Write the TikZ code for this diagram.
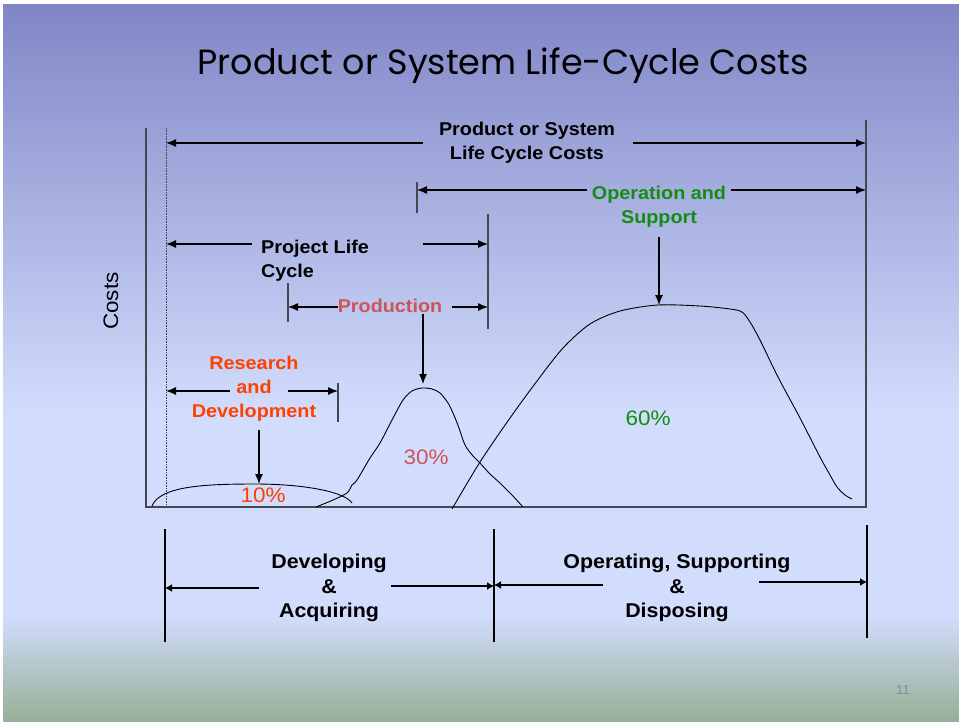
\documentclass[tikz,border=0pt]{standalone}
\usepackage{fontspec}
\setmainfont[FakeStretch=1.07]{Liberation Sans}
\newfontfamily\titlefont{Poppins}
\usetikzlibrary{arrows.meta, positioning}
\definecolor{bgtop}{RGB}{128,134,198}
\definecolor{bglight}{RGB}{210,221,253}
\definecolor{bgbottom}{RGB}{150,175,150}
\definecolor{rdred}{RGB}{255,64,0}
\definecolor{prodred}{RGB}{205,85,85}
\definecolor{opgreen}{RGB}{20,140,20}
\definecolor{tickgray}{RGB}{70,70,80}
\definecolor{pagegray}{RGB}{140,140,140}

\begin{document}
\begin{tikzpicture}[x=1pt, y=-1pt]
\tikzstyle{label}=[font=\bfseries\fontsize{18.5}{24}\selectfont, align=center, inner sep=0pt]
\tikzstyle{phaselabel}=[font=\bfseries\fontsize{20}{24.5}\selectfont, align=center, inner sep=0pt]
\tikzstyle{pct}=[font=\fontsize{21}{24}\selectfont, inner sep=0pt]
\tikzstyle{arrow}=[line width=1.2pt, ->, >={Latex[length=10pt,width=8pt]}]
\tikzstyle{tick}=[line width=1.4pt, tickgray]
\tikzstyle{curve}=[line width=0.9pt]
\tikzstyle{phase}=[line width=2.8pt]
\tikzstyle{phasearrow}=[line width=2.4pt, ->, >={Latex[length=7pt,width=8pt]}]

% background
\useasboundingbox (0,0) rectangle (959,721);
\fill[white] (0,0) rectangle (959,721);
\shade[top color=bgtop, bottom color=bglight] (3,4) rectangle (959,415);
\fill[bglight] (3,415) rectangle (959,615);
\shade[top color=bglight, bottom color=bgbottom] (3,615) rectangle (959,721);

\node (title) at (503,66) {\titlefont\fontsize{35}{40}\selectfont Product or System Life-Cycle Costs};

% axes
\coordinate (ytop) at (146,128);
\coordinate (origin) at (146,507);
\coordinate (xend) at (866,507);
\coordinate (rtop) at (866,120);
\coordinate (dtop) at (166,128);
\coordinate (dbot) at (166,507);
\draw[line width=1.1pt, tickgray] (ytop) -- (origin) -- (xend) -- (rtop);
\draw[line width=0.6pt, densely dotted, tickgray] (dtop) -- (dbot);
\node[pct, rotate=90] (costs) at (111,301) {Costs};

% whole life cycle
\node[label] (lcc) at (527,143) {Product or System\\Life Cycle Costs};
\coordinate (lccL) at (423,143);
\coordinate (lccR) at (633,143);
\draw[arrow] (lccL) -- (lccL -| dtop);
\draw[arrow] (lccR) -- (lccR -| rtop);

% operation and support
\node[label, text=opgreen] (ops) at (659,207) {Operation and\\Support};
\coordinate (opsTick) at (417,182);
\coordinate (opsTickB) at (417,213);
\coordinate (opsL) at (587,190);
\coordinate (opsR) at (731,190);
\coordinate (opsPeak) at (659,305);
\draw[tick] (opsTick) -- (opsTickB);
\draw[arrow] (opsL) -- (opsL -| opsTick);
\draw[arrow] (opsR) -- (opsR -| rtop);
\draw[arrow] (ops.south |- 0,237) -- (opsPeak);

% project life cycle
\node[label, align=left] (plc) at (315,261) {Project Life\\Cycle};
\coordinate (plcTick) at (488,214);
\coordinate (plcTickB) at (488,329);
\coordinate (plcL) at (252,244);
\coordinate (plcR) at (423,244);
\draw[tick] (plcTick) -- (plcTickB);
\draw[arrow] (plcL) -- (plcL -| dtop);
\draw[arrow] (plcR) -- (plcR -| plcTick);

% production
\node[label, text=prodred] (prod) at (390,306) {Production};
\coordinate (prodTick) at (288,283);
\coordinate (prodTickB) at (288,322);
\coordinate (prodL) at (338,307);
\coordinate (prodR) at (452,307);
\coordinate (prodPeak) at (423,384);
\draw[tick] (prodTick) -- (prodTickB);
\draw[arrow] (prodL) -- (prodL -| prodTick);
\draw[arrow] (prodR) -- (prodR -| plcTick);
\draw[arrow] (prodPeak |- 0,314) -- (prodPeak);

% research and development
\node[label, text=rdred] (rnd) at (254,389) {Research\\and\\Development};
\coordinate (rndTick) at (338,383);
\coordinate (rndTickB) at (338,422);
\coordinate (rndL) at (230,391);
\coordinate (rndR) at (288,391);
\coordinate (rndPeak) at (259,484);
\draw[tick] (rndTick) -- (rndTickB);
\draw[arrow] (rndL) -- (rndL -| dtop);
\draw[arrow] (rndR) -- (rndR -| rndTick);
\draw[arrow] (rndPeak |- 0,430) -- (rndPeak);

% cost curves
\draw[curve] (152,506) .. controls (160,486) and (205,484) .. (255,484)
  .. controls (305,484) and (345,492) .. (352,503);
\draw[curve] plot[smooth, tension=0.5] coordinates {(316,507) (333,500) (347,493)
  (352,485) (357,480) (370,458) (380,443) (392,420) (403,400) (412,391)
  (422,388) (432,389) (440,393) (448,403) (453,413) (459,428) (465,445)
  (473,456) (480,463) (490,474) (500,483) (512,495) (523,507)};
\draw[curve] plot[smooth] coordinates {(452,509) (480,462) (510,418) (537,381)
  (563,348) (590,324) (620,311) (658,305) (700,306) (730,309) (742,312)
  (750,322) (760,340) (778,377) (800,418) (820,457) (830,475) (837,487)
  (845,495) (852,499)};
\node[pct, text=rdred] (pctrnd) at (263,495) {10\%};
\node[pct, text=prodred] (pctprod) at (426,457) {30\%};
\node[pct, text=opgreen] (pctops) at (648,418) {60\%};

% phases
\coordinate (phA) at (165,529);
\coordinate (phAb) at (165,642);
\coordinate (phB) at (494,529);
\coordinate (phBb) at (494,642);
\coordinate (phC) at (867,525);
\coordinate (phCb) at (867,638);
\draw[phase] (phA) -- (phAb);
\draw[phase] (phB) -- (phBb);
\draw[phase] (phC) -- (phCb);
\node[phaselabel] (devacq) at (329,588) {Developing\\\&\\Acquiring};
\node[phaselabel] (opsup) at (677,588) {Operating, Supporting\\\&\\Disposing};
\coordinate (devL) at (259,588);
\coordinate (devR) at (391,586);
\coordinate (opsupL) at (603,585);
\coordinate (opsupR) at (759,582);
\draw[phasearrow] (devL) -- (devL -| phA);
\draw[phasearrow] (devR) -- (devR -| phB);
\draw[phasearrow] (opsupL) -- (opsupL -| phB);
\draw[phasearrow] (opsupR) -- (opsupR -| phC);

\node[text=pagegray, font=\fontsize{13}{15}\selectfont] (page) at (903,690) {11};
\end{tikzpicture}
\end{document}
